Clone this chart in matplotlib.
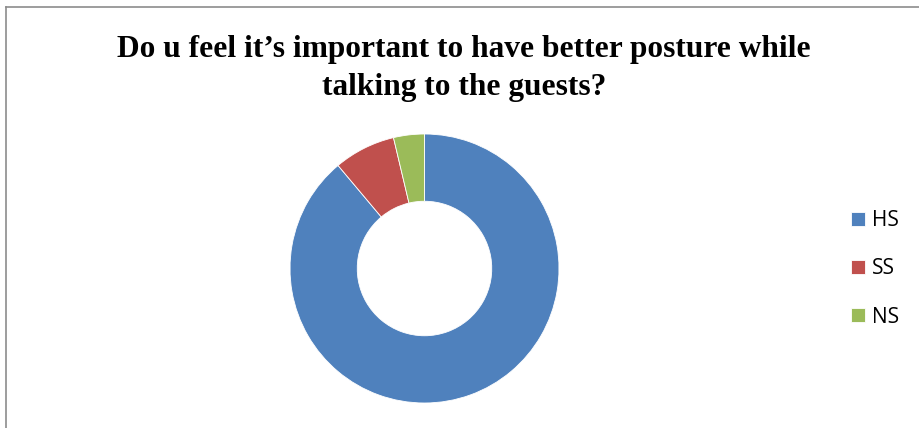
import matplotlib
matplotlib.use("Agg")
import matplotlib.pyplot as plt
from matplotlib.lines import Line2D

title_lines = ["Do u feel it\u2019s important to have better posture while",
               "talking to the guests?"]
labels = ["HS", "SS", "NS"]
values = [24, 2, 1]
colors = ["#4F81BD", "#C0504D", "#9BBB59"]

W, H = 919, 428
fig = plt.figure(figsize=(W / 100, H / 100), dpi=100)

# chart-area border (top and left edges visible)
fig.add_artist(Line2D([6 / W, 1.0], [1 - 7 / H, 1 - 7 / H], color="#8c8c8c", lw=1.2))
fig.add_artist(Line2D([6 / W, 6 / W], [0.0, 1 - 7 / H], color="#8c8c8c", lw=1.2))

# two-line title, baselines placed individually
for line, base in zip(title_lines, [57, 95]):
    fig.text(464 / W, 1 - base / H, line, ha="center", va="baseline",
             family="Liberation Serif", fontweight="bold", fontsize=22.6,
             color="black")

# doughnut
cx, cy, r = 424.5, 268.5, 134.5
ax = fig.add_axes([(cx - r) / W, (H - cy - r) / H, 2 * r / W, 2 * r / H])
wedges, _ = ax.pie(values, colors=colors, startangle=90, counterclock=False,
                   radius=1.0, wedgeprops=dict(width=0.5, edgecolor="white", linewidth=0.6))
ax.set_xlim(-1, 1)
ax.set_ylim(-1, 1)
ax.set_aspect("equal")
ax.axis("off")

fig.legend(wedges, labels, loc="center left", bbox_to_anchor=(843 / W, 1 - 269 / H),
           frameon=False, prop={"family": "Open Sans", "size": 15},
           handlelength=0.67, handleheight=0.67, handletextpad=0.34,
           labelspacing=1.3, borderaxespad=0)

fig.savefig("out.png", dpi=100)
